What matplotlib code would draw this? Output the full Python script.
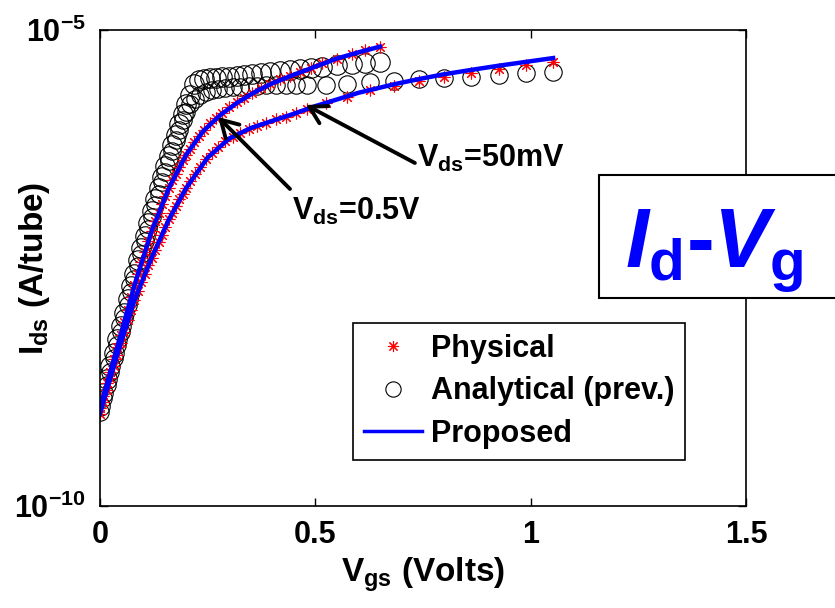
import numpy as np
import matplotlib
matplotlib.use('Agg')
import matplotlib.pyplot as plt
from matplotlib.lines import Line2D
from matplotlib.patches import Rectangle
from matplotlib.ticker import NullLocator

plt.rcParams['font.family'] = 'Liberation Sans'
plt.rcParams['font.weight'] = 'bold'
plt.rcParams['axes.labelweight'] = 'bold'
plt.rcParams['mathtext.fontset'] = 'custom'
plt.rcParams['mathtext.rm'] = 'Liberation Sans:bold'
plt.rcParams['mathtext.bf'] = 'Liberation Sans:bold'
plt.rcParams['mathtext.it'] = 'Liberation Sans:italic:bold'

# sample gate voltages (V), shared by physical and analytical points
vgs_05 = [0.000, 0.008, 0.016, 0.024, 0.032, 0.040, 0.048, 0.056, 0.064, 0.072,
          0.080, 0.088, 0.096, 0.104, 0.112, 0.120, 0.128, 0.136, 0.144, 0.152,
          0.160, 0.168, 0.176, 0.184, 0.192, 0.200, 0.209, 0.219, 0.230, 0.242,
          0.255, 0.269, 0.284, 0.300, 0.317, 0.335, 0.354, 0.374, 0.395, 0.417,
          0.440, 0.464, 0.489, 0.515, 0.550, 0.584, 0.615, 0.650]
vgs_50 = [0.000, 0.008, 0.016, 0.024, 0.032, 0.040, 0.048, 0.056, 0.064, 0.072,
          0.080, 0.088, 0.096, 0.104, 0.112, 0.120, 0.128, 0.136, 0.144, 0.152,
          0.160, 0.168, 0.176, 0.184, 0.192, 0.200, 0.210, 0.221, 0.233, 0.246,
          0.260, 0.275, 0.291, 0.308, 0.326, 0.345, 0.365, 0.386, 0.408, 0.431,
          0.455, 0.480, 0.525, 0.573, 0.627, 0.683, 0.741, 0.799, 0.861, 0.926,
          0.989, 1.052]

# log10 of Ids (A/tube)
phys_05 = [-8.97, -8.84, -8.71, -8.59, -8.46, -8.33, -8.20, -8.07, -7.94, -7.81,
           -7.68, -7.56, -7.44, -7.33, -7.22, -7.11, -7.01, -6.92, -6.83, -6.74,
           -6.66, -6.58, -6.51, -6.44, -6.37, -6.31, -6.25, -6.18, -6.11, -6.05,
           -5.98, -5.92, -5.87, -5.81, -5.76, -5.71, -5.66, -5.61, -5.57, -5.52,
           -5.48, -5.44, -5.40, -5.35, -5.30, -5.25, -5.21, -5.175]
ana_05 = [-8.95, -8.81, -8.67, -8.53, -8.39, -8.25, -8.11, -7.97, -7.83, -7.69,
          -7.56, -7.42, -7.29, -7.16, -7.03, -6.90, -6.78, -6.66, -6.54, -6.43,
          -6.32, -6.21, -6.10, -5.99, -5.88, -5.78, -5.68, -5.57, -5.53, -5.52,
          -5.505, -5.50, -5.495, -5.49, -5.48, -5.47, -5.46, -5.45, -5.44, -5.435,
          -5.425, -5.415, -5.40, -5.385, -5.37, -5.355, -5.35, -5.34]
phys_50 = [-9.03, -8.91, -8.78, -8.66, -8.53, -8.41, -8.29, -8.17, -8.05, -7.94,
           -7.84, -7.74, -7.65, -7.56, -7.47, -7.39, -7.31, -7.23, -7.15, -7.07,
           -6.99, -6.92, -6.85, -6.78, -6.72, -6.66, -6.59, -6.51, -6.44, -6.36,
           -6.29, -6.23, -6.17, -6.12, -6.08, -6.04, -6.01, -5.98, -5.94, -5.91,
           -5.87, -5.83, -5.765, -5.70, -5.635, -5.585, -5.535, -5.49, -5.45, -5.41,
           -5.37, -5.335]
ana_50 = [-9.01, -8.87, -8.73, -8.59, -8.45, -8.31, -8.17, -8.03, -7.89, -7.75,
          -7.62, -7.48, -7.35, -7.22, -7.09, -6.96, -6.84, -6.72, -6.60, -6.49,
          -6.38, -6.27, -6.16, -6.05, -5.95, -5.86, -5.78, -5.72, -5.68, -5.65,
          -5.63, -5.615, -5.605, -5.60, -5.595, -5.59, -5.585, -5.58, -5.58, -5.578,
          -5.578, -5.578, -5.575, -5.567, -5.55, -5.533, -5.518, -5.507, -5.49, -5.473,
          -5.455, -5.438]

# proposed model curves
vgs_prop_05 = [0.0, 0.04, 0.08, 0.12, 0.16, 0.20, 0.24, 0.28, 0.32, 0.36,
               0.40, 0.45, 0.50, 0.55, 0.60, 0.65]
prop_05 = [-8.97, -8.33, -7.68, -7.11, -6.66, -6.31, -6.06, -5.89, -5.76, -5.65,
           -5.56, -5.47, -5.385, -5.30, -5.235, -5.175]
vgs_prop_50 = [0.0, 0.04, 0.08, 0.12, 0.16, 0.20, 0.25, 0.30, 0.35, 0.40,
               0.45, 0.50, 0.55, 0.60, 0.683, 0.741, 0.799, 0.861, 0.926, 0.989, 1.052]
prop_50 = [-9.03, -8.41, -7.84, -7.39, -6.99, -6.66, -6.34, -6.14, -6.03, -5.955,
           -5.88, -5.80, -5.73, -5.66, -5.57, -5.515, -5.465, -5.42, -5.375, -5.335, -5.295]

STAR = (8, 2, 0)

fig = plt.figure(figsize=(8.35, 6.08), dpi=100)
ax = fig.add_axes([0.1198, 0.1678, 0.7737, 0.7829])

ax.plot(vgs_05, np.power(10.0, ana_05), ls='none', marker='o', mfc='none', mec='k', ms=14, mew=0.8)
ax.plot(vgs_50, np.power(10.0, ana_50), ls='none', marker='o', mfc='none', mec='k', ms=12.5, mew=0.8)
ax.plot(vgs_05, np.power(10.0, phys_05), ls='none', marker=STAR, color='r', ms=8.5, mew=0.8)
ax.plot(vgs_50, np.power(10.0, phys_50), ls='none', marker=STAR, color='r', ms=8.5, mew=0.8)
ax.plot(vgs_prop_05, np.power(10.0, prop_05), color='b', lw=3.2)
ax.plot(vgs_prop_50, np.power(10.0, prop_50), color='b', lw=3.2)

ax.set_yscale('log')
ax.set_xlim(0, 1.5)
ax.set_ylim(1e-10, 1e-5)
ax.set_xticks([0, 0.5, 1, 1.5])
ax.set_xticklabels(['0', '0.5', '1', '1.5'])
ax.set_yticks([1e-10, 1e-5])
ax.set_yticklabels([r'$10^{-10}$', r'$10^{-5}$'])
ax.yaxis.set_minor_locator(NullLocator())
ax.tick_params(direction='in', top=True, right=True, length=6, width=1, labelsize=22, pad=10)
for s in ax.spines.values():
    s.set_linewidth(1.2)

ax.set_xlabel(r'$\mathrm{V}_{\mathrm{gs}}$ (Volts)', fontsize=24, labelpad=4)
ax.set_ylabel(r'$\mathrm{I}_{\mathrm{ds}}$ (A/tube)', fontsize=24)
ax.yaxis.set_label_coords(-0.075, 0.5)

# legend
h1 = Line2D([], [], ls='none', marker=STAR, color='r', ms=8, mew=0.8)
h2 = Line2D([], [], ls='none', marker='o', mfc='none', mec='k', ms=11, mew=0.8)
h3 = Line2D([], [], color='b', lw=2.5)
leg = ax.legend([h1, h2, h3], ['Physical', 'Analytical (prev.)', 'Proposed'],
                loc='upper left', bbox_to_anchor=(0.392, 0.384), fontsize=22,
                handlelength=1.9, handletextpad=0.3, borderpad=0.35, labelspacing=0.41,
                borderaxespad=0, fancybox=False, framealpha=1, edgecolor='k')
leg.get_frame().set_linewidth(1.2)

# annotations
arrow = dict(arrowstyle='->,head_length=0.6,head_width=0.35', lw=2.8, color='k',
             shrinkA=0, shrinkB=0, mutation_scale=20)
ax.annotate('', xy=(0.274, 10 ** -5.914), xytext=(0.441, 10 ** -6.67), arrowprops=arrow)
ax.annotate('', xy=(0.478, 10 ** -5.788), xytext=(0.731, 10 ** -6.397), arrowprops=arrow)
ax.text(0.446, 10 ** -6.996, r'$\mathrm{V}_{\mathrm{ds}}$=0.5V', fontsize=22,
        ha='left', va='baseline')
ax.text(0.736, 10 ** -6.44, r'$\mathrm{V}_{\mathrm{ds}}$=50mV', fontsize=22,
        ha='left', va='baseline')

# Id-Vg box
fig.add_artist(Rectangle((0.7174, 0.5099), 0.35, 0.2023, transform=fig.transFigure,
                         facecolor='white', edgecolor='k', lw=1.5, zorder=5))
fig.text(0.7485, 0.559, r'$\mathit{I}_{\mathrm{d}}$-$\mathit{V}_{\mathrm{g}}$',
         color=(0, 0, 1), fontsize=60, ha='left', va='baseline', zorder=6)

fig.savefig('out.png', dpi=100)
